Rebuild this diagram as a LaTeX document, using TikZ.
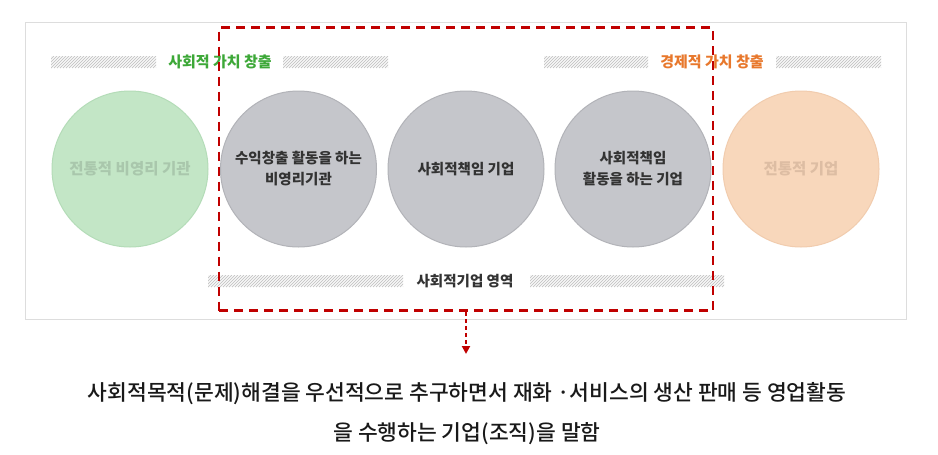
\documentclass[tikz,border=0pt]{standalone}
\usepackage{fontspec}
\setmainfont{Noto Sans CJK KR}
\newfontfamily\krmed{Noto Sans CJK KR Medium}
\usetikzlibrary{arrows.meta}
\definecolor{panelline}{HTML}{DDDDDD}
\definecolor{greenfill}{HTML}{C3E6C6}
\definecolor{greenedge}{HTML}{B4DCB8}
\definecolor{greentext}{HTML}{A9C7AC}
\definecolor{grayfill}{HTML}{C5C6CB}
\definecolor{grayedge}{HTML}{B2B3B8}
\definecolor{orangefill}{HTML}{F8D7BB}
\definecolor{orangeedge}{HTML}{F1CCAE}
\definecolor{orangetext}{HTML}{DDBDA3}
\definecolor{titlegreen}{HTML}{3DA838}
\definecolor{titleorange}{HTML}{E8782C}
\definecolor{darktext}{HTML}{333333}
\definecolor{zonered}{HTML}{C00000}
\definecolor{hatchgray}{HTML}{C8C8C8}
\tikzset{
  circ/.style={circle, minimum size=156pt, inner sep=0pt, line width=1pt, align=center},
  greencirc/.style={circ, fill=greenfill, draw=greenedge, text=greentext, font=\fontsize{15.5}{18}\selectfont\bfseries},
  graycirc/.style={circ, fill=grayfill, draw=grayedge, text=darktext, font=\fontsize{14.5}{21}\selectfont\bfseries},
  orangecirc/.style={circ, fill=orangefill, draw=orangeedge, text=orangetext, font=\fontsize{15.5}{18}\selectfont\bfseries},
  hatchbar/.style={minimum height=12pt, inner sep=0pt, path picture={
    \foreach \k in {-12,-9,...,600}
      \draw[hatchgray, line width=0.8pt] ([xshift=\k pt]path picture bounding box.south west) -- ++(12pt,12pt);}},
  titletext/.style={font=\fontsize{15}{18}\selectfont\bfseries, inner sep=0pt},
  zonebox/.style={draw=zonered, line width=2.6pt, dash pattern=on 9pt off 6pt, inner sep=0pt},
  zonearrow/.style={draw=zonered, line width=2.2pt, dash pattern=on 4pt off 3pt, -{Triangle[length=8pt,width=8pt]}},
  bodytext/.style={font=\fontsize{21.5}{40}\krmed, align=center, text=black!90}
}
\begin{document}
\begin{tikzpicture}[x=1pt,y=-1pt]
\useasboundingbox[fill=white] (0,0) rectangle (938,455);
% panel
\node[draw=panelline, line width=1pt, minimum width=881pt, minimum height=297pt, inner sep=0pt] (panel) at (465.5,171) {};
% hatched bars top
\node[hatchbar, minimum width=105pt] (bar1) at (103.5,62) {};
\node[hatchbar, minimum width=105pt] (bar2) at (335.5,62) {};
\node[hatchbar, minimum width=104pt] (bar3) at (596,62) {};
\node[hatchbar, minimum width=105pt] (bar4) at (828.5,62) {};
\node[titletext, text=titlegreen] (t1) at (220,62) {사회적 가치 창출};
\node[titletext, text=titleorange] (t2) at (712,62) {경제적 가치 창출};
% bottom bars
\node[hatchbar, minimum width=195pt] (bar5) at (305.5,281) {};
\node[hatchbar, minimum width=194pt] (bar6) at (627,281) {};
\node[titletext, text=darktext, font=\fontsize{14.5}{18}\selectfont\bfseries] (t3) at (465,281) {사회적기업 영역};
% circles
\node[greencirc] (c1) at (130,169) {전통적 비영리 기관};
\node[graycirc] (c2) at (298.5,169) {수익창출 활동을 하는\\비영리기관};
\node[graycirc] (c3) at (466,169) {사회적책임 기업};
\node[graycirc] (c4) at (633,169) {사회적책임\\활동을 하는 기업};
\node[orangecirc] (c5) at (801,169) {전통적 기업};
% dashed zone
\node[zonebox, minimum width=494pt, minimum height=283pt] (zone) at (466,169) {};
\coordinate (tip) at (466,354);
\draw[zonearrow] (zone.south) -- (tip);
% description
\node[bodytext] (desc) at (467,414) {사회적목적(문제)해결을 우선적으로 추구하면서 재화 ·서비스의 생산 판매 등 영업활동\\을 수행하는 기업(조직)을 말함};
\end{tikzpicture}
\end{document}
